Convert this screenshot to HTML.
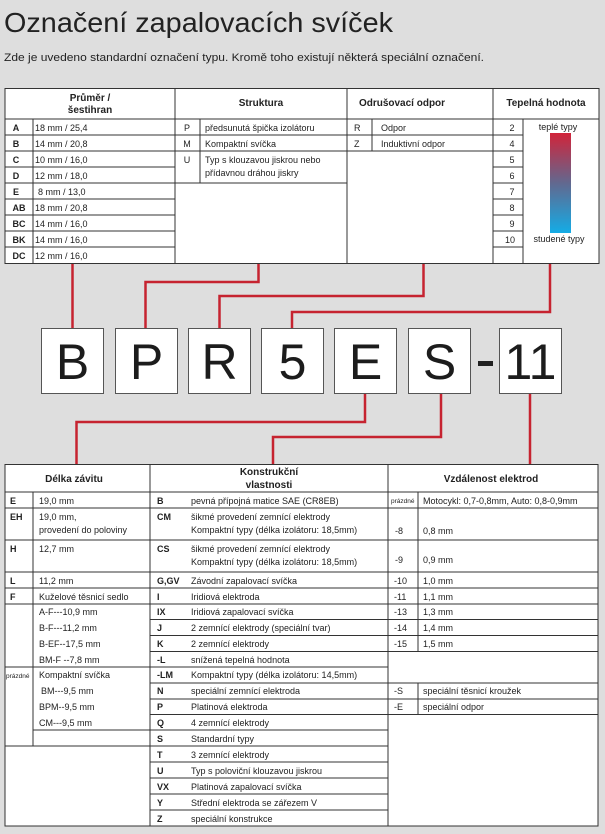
<!DOCTYPE html>
<html><head><meta charset="utf-8"><style>
html,body{margin:0;padding:0;background:#dedede;}
svg{display:block;font-family:"Liberation Sans",sans-serif;}
</style></head><body>
<svg width="605" height="834" viewBox="0 0 605 834" xmlns="http://www.w3.org/2000/svg">
<defs><linearGradient id="g" x1="0" y1="0" x2="0" y2="1"><stop offset="0" stop-color="#d1243a"/><stop offset="0.5" stop-color="#62688f"/><stop offset="1" stop-color="#14ace6"/></linearGradient></defs>
<rect width="605" height="834" fill="#dedede"/>
<text x="4" y="32" font-size="28" fill="#222" textLength="389" lengthAdjust="spacingAndGlyphs">Označení zapalovacích svíček</text>
<text x="4" y="61" font-size="11" fill="#222" textLength="480" lengthAdjust="spacingAndGlyphs">Zde je uvedeno standardní označení typu. Kromě toho existují některá speciální označení.</text>

<g stroke="#333" stroke-width="1" fill="none">
<rect x="5" y="88.5" width="594" height="175" fill="#fff"/>
<line x1="5" y1="119" x2="599" y2="119"/>
<line x1="175" y1="88.5" x2="175" y2="263.5"/>
<line x1="347" y1="88.5" x2="347" y2="263.5"/>
<line x1="493" y1="88.5" x2="493" y2="263.5"/>
<line x1="33" y1="119" x2="33" y2="263.5"/>
<line x1="5" y1="135" x2="175" y2="135"/><line x1="5" y1="151" x2="175" y2="151"/><line x1="5" y1="167" x2="175" y2="167"/><line x1="5" y1="183" x2="175" y2="183"/><line x1="5" y1="199" x2="175" y2="199"/><line x1="5" y1="215" x2="175" y2="215"/><line x1="5" y1="231" x2="175" y2="231"/><line x1="5" y1="247" x2="175" y2="247"/>
<line x1="200" y1="119" x2="200" y2="183"/>
<line x1="175" y1="135" x2="347" y2="135"/><line x1="175" y1="151" x2="347" y2="151"/><line x1="175" y1="183" x2="347" y2="183"/>
<line x1="372" y1="119" x2="372" y2="151"/>
<line x1="347" y1="135" x2="493" y2="135"/><line x1="347" y1="151" x2="493" y2="151"/>
<line x1="523" y1="119" x2="523" y2="263.5"/>
<line x1="493" y1="135" x2="523" y2="135"/><line x1="493" y1="151" x2="523" y2="151"/><line x1="493" y1="167" x2="523" y2="167"/><line x1="493" y1="183" x2="523" y2="183"/><line x1="493" y1="199" x2="523" y2="199"/><line x1="493" y1="215" x2="523" y2="215"/><line x1="493" y1="231" x2="523" y2="231"/><line x1="493" y1="247" x2="523" y2="247"/>
</g>
<rect x="550" y="133" width="21" height="100" fill="url(#g)"/>
<g font-size="10" font-weight="bold" fill="#222" text-anchor="middle">
<text x="90" y="101">Průměr /</text><text x="90" y="113">šestihran</text>
<text x="261" y="106">Struktura</text>
<text x="402" y="106">Odrušovací odpor</text>
<text x="546" y="106">Tepelná hodnota</text>
</g>
<g font-size="9" fill="#222">
<g font-weight="bold" text-anchor="middle"><text x="16" y="131">A</text><text x="16" y="147">B</text><text x="16" y="163">C</text><text x="16" y="179">D</text><text x="16" y="195">E</text><text x="19" y="211">AB</text><text x="19" y="227">BC</text><text x="19" y="243">BK</text><text x="19" y="259">DC</text></g>
<text x="35" y="131">18 mm / 25,4</text><text x="35" y="147">14 mm / 20,8</text><text x="35" y="163">10 mm / 16,0</text><text x="35" y="179">12 mm / 18,0</text><text x="38" y="195">8 mm / 13,0</text><text x="35" y="211">18 mm / 20,8</text><text x="35" y="227">14 mm / 16,0</text><text x="35" y="243">14 mm / 16,0</text><text x="35" y="259">12 mm / 16,0</text>
<g text-anchor="middle"><text x="187" y="131">P</text><text x="187" y="147">M</text><text x="187" y="163">U</text></g>
<text x="205" y="131">předsunutá špička izolátoru</text><text x="205" y="147">Kompaktní svíčka</text><text x="205" y="163">Typ s klouzavou jiskrou nebo</text><text x="205" y="176">přídavnou dráhou jiskry</text>
<text x="354" y="131">R</text><text x="354" y="147">Z</text>
<text x="381" y="131">Odpor</text><text x="381" y="147">Induktivní odpor</text>
<g text-anchor="middle"><text x="512" y="131">2</text><text x="512" y="147">4</text><text x="512" y="163">5</text><text x="512" y="179">6</text><text x="512" y="195">7</text><text x="512" y="211">8</text><text x="512" y="227">9</text><text x="510" y="243">10</text>
<text x="558" y="130">teplé typy</text><text x="559" y="242">studené typy</text></g>
</g>

<g stroke="#c62330" stroke-width="2.5" fill="none">
<polyline points="72.5,264 72.5,328"/>
<polyline points="258.5,264 258.5,282 145.5,282 145.5,328"/>
<polyline points="423.5,264 423.5,296 219.5,296 219.5,328"/>
<polyline points="550,264 550,312 292,312 292,328"/>
<polyline points="365,393 365,422 76.5,422 76.5,464"/>
<polyline points="441,393 441,437 273,437 273,464"/>
<polyline points="530,393 530,464"/>
</g>

<g fill="#fff" stroke="#555" stroke-width="1">
<rect x="41.5" y="328.5" width="62" height="65"/><rect x="115.5" y="328.5" width="62" height="65"/><rect x="188.5" y="328.5" width="62" height="65"/><rect x="261.5" y="328.5" width="62" height="65"/><rect x="334.5" y="328.5" width="62" height="65"/><rect x="408.5" y="328.5" width="62" height="65"/><rect x="499.5" y="328.5" width="62" height="65"/>
</g>
<rect x="478" y="361" width="15" height="5" fill="#222"/>
<g font-size="50" fill="#1c1c1c" text-anchor="middle">
<text x="72.5" y="379">B</text><text x="146.5" y="379">P</text><text x="219.5" y="379">R</text><text x="292.5" y="379">5</text><text x="365.5" y="379">E</text><text x="439.5" y="379">S</text><text x="530.5" y="379">11</text>
</g>

<g stroke="#333" stroke-width="1" fill="none">
<rect x="5" y="464.5" width="593" height="361.5" fill="#fff"/>
<line x1="150" y1="464.5" x2="150" y2="826"/>
<line x1="388" y1="464.5" x2="388" y2="826"/>
<line x1="5" y1="492" x2="598" y2="492"/>
<line x1="33" y1="492" x2="33" y2="746"/>
<line x1="5" y1="508" x2="150" y2="508"/><line x1="5" y1="540" x2="150" y2="540"/><line x1="5" y1="572" x2="150" y2="572"/><line x1="5" y1="588" x2="150" y2="588"/><line x1="5" y1="604" x2="150" y2="604"/><line x1="5" y1="667" x2="150" y2="667"/><line x1="33" y1="730" x2="150" y2="730"/><line x1="5" y1="746" x2="150" y2="746"/>
<line x1="150" y1="508" x2="388" y2="508"/><line x1="150" y1="540" x2="388" y2="540"/><line x1="150" y1="572" x2="388" y2="572"/><line x1="150" y1="588" x2="388" y2="588"/><line x1="150" y1="604" x2="388" y2="604"/><line x1="150" y1="619.5" x2="388" y2="619.5"/><line x1="150" y1="635.5" x2="388" y2="635.5"/><line x1="150" y1="651.5" x2="388" y2="651.5"/><line x1="150" y1="667" x2="388" y2="667"/><line x1="150" y1="683" x2="388" y2="683"/><line x1="150" y1="699" x2="388" y2="699"/><line x1="150" y1="714.5" x2="388" y2="714.5"/><line x1="150" y1="730" x2="388" y2="730"/><line x1="150" y1="746" x2="388" y2="746"/><line x1="150" y1="762" x2="388" y2="762"/><line x1="150" y1="778" x2="388" y2="778"/><line x1="150" y1="794" x2="388" y2="794"/><line x1="150" y1="810" x2="388" y2="810"/>
<line x1="418" y1="492" x2="418" y2="651.5"/><line x1="418" y1="683" x2="418" y2="714.5"/>
<line x1="388" y1="508" x2="598" y2="508"/><line x1="388" y1="540" x2="598" y2="540"/><line x1="388" y1="572" x2="598" y2="572"/><line x1="388" y1="588" x2="598" y2="588"/><line x1="388" y1="604" x2="598" y2="604"/><line x1="388" y1="619.5" x2="598" y2="619.5"/><line x1="388" y1="635.5" x2="598" y2="635.5"/><line x1="388" y1="651.5" x2="598" y2="651.5"/><line x1="388" y1="683" x2="598" y2="683"/><line x1="388" y1="699" x2="598" y2="699"/><line x1="388" y1="714.5" x2="598" y2="714.5"/>
</g>
<g font-size="10" font-weight="bold" fill="#222" text-anchor="middle">
<text x="74" y="482">Délka závitu</text>
<text x="269" y="475">Konstrukční</text><text x="269" y="488">vlastnosti</text>
<text x="491" y="482">Vzdálenost elektrod</text>
</g>
<g font-size="9" fill="#222">
<g font-weight="bold"><text x="10" y="504">E</text><text x="10" y="520">EH</text><text x="10" y="552">H</text><text x="10" y="584">L</text><text x="10" y="600">F</text></g>
<text x="39" y="504">19,0 mm</text><text x="39" y="520">19,0 mm,</text><text x="39" y="533">provedení do poloviny</text><text x="39" y="552">12,7 mm</text><text x="39" y="584">11,2 mm</text><text x="39" y="600">Kuželové těsnicí sedlo</text>
<text x="39" y="615">A-F---10,9 mm</text><text x="39" y="631">B-F---11,2 mm</text><text x="39" y="647">B-EF--17,5 mm</text><text x="39" y="663">BM-F --7,8 mm</text>
<text x="6" y="678" font-size="6.5">prázdné</text>
<text x="39" y="678">Kompaktní svíčka</text><text x="41" y="694">BM---9,5 mm</text><text x="39" y="710">BPM--9,5 mm</text><text x="39" y="726">CM---9,5 mm</text>
<g font-weight="bold"><text x="157" y="504">B</text><text x="157" y="520">CM</text><text x="157" y="552">CS</text><text x="157" y="584">G,GV</text><text x="157" y="600">I</text><text x="157" y="615">IX</text><text x="157" y="631">J</text><text x="157" y="647">K</text><text x="157" y="663">-L</text><text x="157" y="678">-LM</text><text x="157" y="694">N</text><text x="157" y="710">P</text><text x="157" y="726">Q</text><text x="157" y="742">S</text><text x="157" y="758">T</text><text x="157" y="774">U</text><text x="157" y="790">VX</text><text x="157" y="806">Y</text><text x="157" y="822">Z</text></g>
<text x="191" y="504">pevná přípojná matice SAE (CR8EB)</text>
<text x="191" y="520">šikmé provedení zemnící elektrody</text><text x="191" y="533">Kompaktní typy (délka izolátoru: 18,5mm)</text>
<text x="191" y="552">šikmé provedení zemnící elektrody</text><text x="191" y="565">Kompaktní typy (délka izolátoru: 18,5mm)</text>
<text x="191" y="584">Závodní zapalovací svíčka</text><text x="191" y="600">Iridiová elektroda</text><text x="191" y="615">Iridiová zapalovací svíčka</text><text x="191" y="631">2 zemnící elektrody (speciální tvar)</text><text x="191" y="647">2 zemnící elektrody</text><text x="191" y="663">snížená tepelná hodnota</text><text x="191" y="678">Kompaktní typy (délka izolátoru: 14,5mm)</text><text x="191" y="694">speciální zemnící elektroda</text><text x="191" y="710">Platinová elektroda</text><text x="191" y="726">4 zemnící elektrody</text><text x="191" y="742">Standardní typy</text><text x="191" y="758">3 zemnící elektrody</text><text x="191" y="774">Typ s poloviční klouzavou jiskrou</text><text x="191" y="790">Platinová zapalovací svíčka</text><text x="191" y="806">Střední elektroda se zářezem V</text><text x="191" y="822">speciální konstrukce</text>
<text x="391" y="503" font-size="6.5">prázdné</text>
<text x="423" y="504">Motocykl: 0,7-0,8mm, Auto: 0,8-0,9mm</text>
<text x="395" y="534">-8</text><text x="423" y="534">0,8 mm</text>
<text x="395" y="563">-9</text><text x="423" y="563">0,9 mm</text>
<text x="394" y="584">-10</text><text x="423" y="584">1,0 mm</text>
<text x="394" y="600">-11</text><text x="423" y="600">1,1 mm</text>
<text x="394" y="615">-13</text><text x="423" y="615">1,3 mm</text>
<text x="394" y="631">-14</text><text x="423" y="631">1,4 mm</text>
<text x="394" y="647">-15</text><text x="423" y="647">1,5 mm</text>
<text x="394" y="694">-S</text><text x="423" y="694">speciální těsnicí kroužek</text>
<text x="394" y="710">-E</text><text x="423" y="710">speciální odpor</text>
</g>
</svg>
</body></html>
